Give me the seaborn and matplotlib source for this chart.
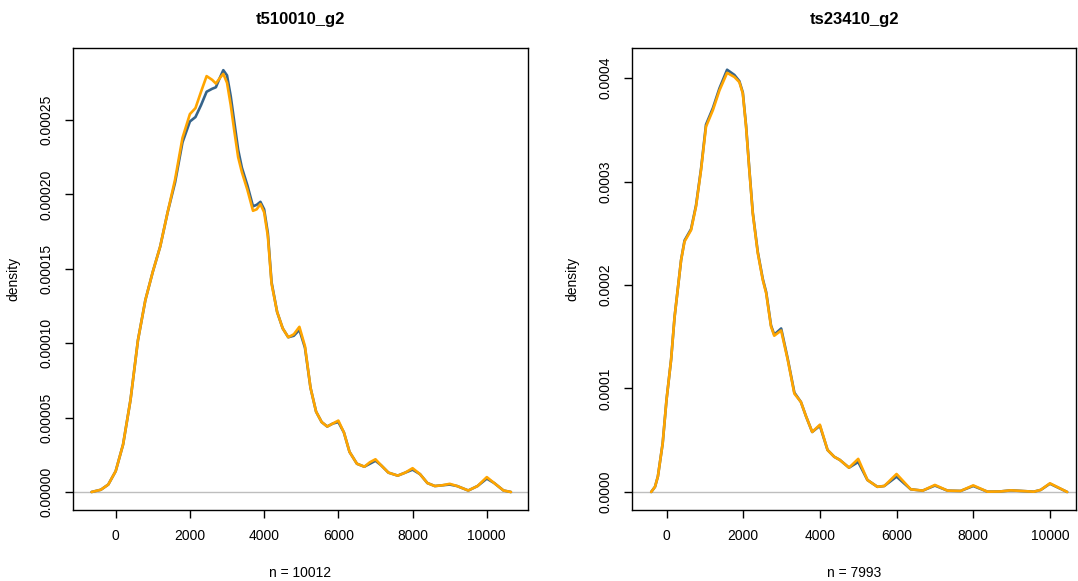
import numpy as np
import pandas as pd
import matplotlib
matplotlib.use("Agg")
import matplotlib.pyplot as plt
import seaborn as sns

# density curves (x = value, y = density)
titles = ["t510010_g2", "ts23410_g2"]
n_labels = ["n = 10012", "n = 7993"]

left_x = [-650, -400, -200, 0, 200, 400, 600, 800, 1000, 1200, 1400, 1600, 1800,
          2000, 2150, 2300, 2450, 2600, 2700, 2800, 2900, 3000, 3100, 3200, 3300,
          3400, 3550, 3700, 3800, 3900, 4000, 4100, 4200, 4350, 4500, 4650, 4800,
          4950, 5100, 5250, 5400, 5550, 5700, 5850, 6000, 6150, 6300, 6500, 6700,
          6850, 7000, 7150, 7350, 7600, 7800, 8000, 8200, 8400, 8600, 8800, 9000,
          9200, 9500, 9750, 10000, 10200, 10450, 10650]
left_orange = [0, 0.15, 0.5, 1.4, 3.2, 6.2, 10.2, 12.9, 14.8, 16.5, 18.8, 21.0, 23.8,
               25.4, 25.8, 26.9, 27.95, 27.7, 27.45, 27.8, 28.1, 27.5, 26.0, 24.2, 22.5,
               21.5, 20.3, 18.9, 19.0, 19.35, 18.8, 17.2, 14.0, 12.1, 11.0, 10.4, 10.6,
               11.1, 9.8, 7.0, 5.4, 4.7, 4.4, 4.6, 4.8, 4.0, 2.7, 1.9, 1.7,
               2.0, 2.2, 1.8, 1.3, 1.1, 1.3, 1.6, 1.2, 0.6, 0.4, 0.45, 0.55,
               0.4, 0.1, 0.4, 1.0, 0.6, 0.1, 0]
left_blue = [0, 0.15, 0.5, 1.4, 3.2, 6.2, 10.2, 12.9, 14.8, 16.5, 18.8, 20.8, 23.5,
             24.9, 25.2, 26.0, 26.9, 27.1, 27.2, 27.8, 28.35, 28.0, 26.6, 24.8, 23.0,
             21.8, 20.6, 19.2, 19.3, 19.5, 19.0, 17.4, 14.1, 12.1, 11.0, 10.4, 10.5,
             10.9, 9.7, 7.0, 5.4, 4.7, 4.4, 4.6, 4.7, 4.0, 2.7, 1.9, 1.7,
             1.9, 2.1, 1.8, 1.3, 1.1, 1.3, 1.5, 1.2, 0.6, 0.4, 0.45, 0.5,
             0.4, 0.1, 0.4, 0.9, 0.6, 0.1, 0]

right_x = [-400, -300, -225, -100, 0, 120, 210, 300, 380, 470, 640, 770, 900, 1030,
           1210, 1380, 1580, 1770, 1900, 1990, 2075, 2160, 2250, 2380, 2510, 2600,
           2725, 2810, 2990, 3160, 3335, 3505, 3640, 3800, 4000, 4200, 4375, 4520,
           4760, 5000, 5240, 5500, 5680, 6000, 6370, 6680, 7000, 7330, 7670, 8000,
           8370, 8700, 8980, 9580, 9760, 10000, 10450]
right_orange = [0, 0.5, 1.5, 4.7, 8.9, 12.8, 16.9, 19.8, 22.4, 24.2, 25.3, 27.6, 31.1, 35.3,
                36.9, 38.8, 40.5, 40.1, 39.6, 38.5, 35.3, 31.1, 26.9, 23.1, 20.5, 19.2,
                16.0, 15.1, 15.6, 12.8, 9.5, 8.7, 7.3, 5.8, 6.5, 4.06, 3.4, 3.1,
                2.35, 3.2, 1.16, 0.5, 0.58, 1.74, 0.26, 0.13, 0.68, 0.13, 0.1, 0.64,
                0.03, 0.05, 0.16, 0.03, 0.2, 0.84, 0]
right_blue = [0, 0.5, 1.5, 4.7, 8.9, 12.8, 16.9, 19.8, 22.4, 24.3, 25.4, 27.7, 31.2, 35.5,
              37.1, 39.0, 40.8, 40.3, 39.7, 38.6, 35.4, 31.2, 27.0, 23.2, 20.6, 19.3,
              16.1, 15.2, 15.8, 12.9, 9.6, 8.7, 7.3, 5.8, 6.4, 4.06, 3.4, 3.1,
              2.35, 2.9, 1.16, 0.5, 0.58, 1.48, 0.26, 0.13, 0.62, 0.13, 0.1, 0.58,
              0.03, 0.05, 0.16, 0.03, 0.2, 0.8, 0]

blue = "#36648B"
orange = "#FFA500"

sns.set_style("ticks")
plt.rcParams['font.family'] = ['Liberation Sans', 'DejaVu Sans']
plt.rcParams['text.color'] = 'black'
plt.rcParams['axes.labelcolor'] = 'black'

fig = plt.figure(figsize=(10.78, 5.81), dpi=100)
ax1 = fig.add_axes([73 / 1078, 1 - 510 / 581, 455 / 1078, 462 / 581])
ax2 = fig.add_axes([632 / 1078, 1 - 510 / 581, 444 / 1078, 462 / 581])

panels = [
    (ax1, left_x, left_blue, left_orange, (-1150, 11110), (-1.21e-5, 2.984e-4),
     [0, 0.00005, 0.0001, 0.00015, 0.0002, 0.00025], "{:.5f}"),
    (ax2, right_x, right_blue, right_orange, (-900, 10680), (-1.74e-5, 4.29e-4),
     [0, 0.0001, 0.0002, 0.0003, 0.0004], "{:.4f}"),
]

for i, (ax, xs, yb, yo, xl, yl, yt, fmt) in enumerate(panels):
    df = pd.DataFrame({"x": xs,
                       "blue": np.array(yb) * 1e-5,
                       "orange": np.array(yo) * 1e-5})
    ax.axhline(0, color="#bebebe", lw=1, zorder=1)
    sns.lineplot(data=df, x="x", y="blue", color=blue, lw=1.9, ax=ax,
                 solid_joinstyle="round")
    sns.lineplot(data=df, x="x", y="orange", color=orange, lw=1.9, ax=ax,
                 solid_joinstyle="round")
    ax.set_xlim(*xl)
    ax.set_ylim(*yl)
    ax.set_xticks([0, 2000, 4000, 6000, 8000, 10000])
    ax.set_xticklabels(["0", "2000", "4000", "6000", "8000", "10000"])
    ax.set_yticks(yt)
    ax.set_yticklabels([fmt.format(v) for v in yt], rotation=90, va="center")
    ax.tick_params(direction="out", length=6, width=1, labelsize=10, pad=8,
                   color="black", labelcolor="black")
    for s in ax.spines.values():
        s.set_visible(True)
        s.set_color("black")
        s.set_linewidth(1)
    ax.set_title(titles[i], fontsize=12, fontweight="bold", pad=17, color="black")
    ax.set_xlabel(n_labels[i], fontsize=10, labelpad=16)
    ax.set_ylabel("density", fontsize=10, labelpad=14)

fig.savefig("out.png", dpi=100)
